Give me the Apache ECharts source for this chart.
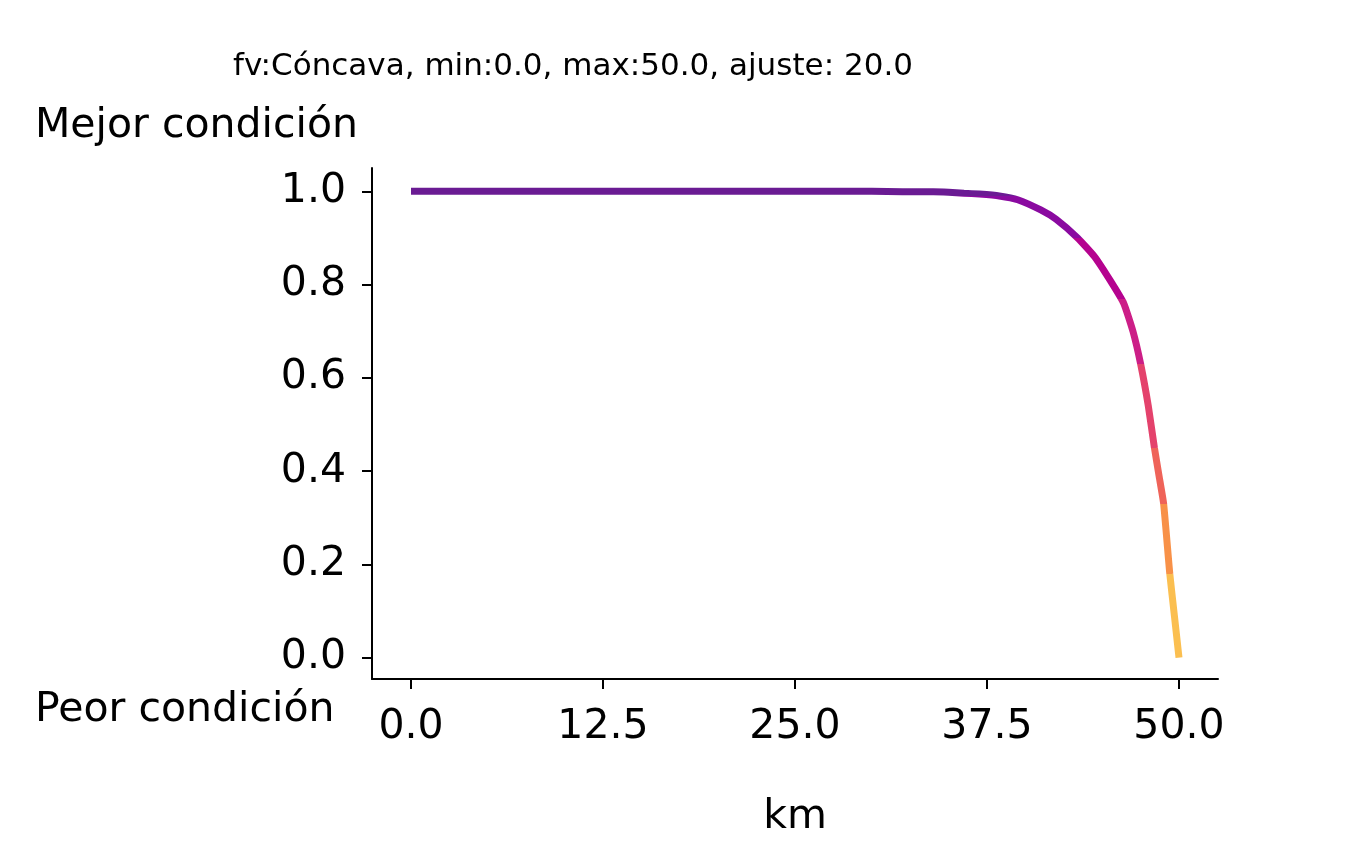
<!DOCTYPE html><html><head><meta charset="utf-8"><script src="https://cdn.jsdelivr.net/npm/echarts@6/dist/echarts.min.js"></script></head><body style="margin:0"><div id="c" style="width:1353px;height:843px"></div><script>
const kmValues=[0,5,10,15,20,25,30,32,34,35,36,37,38.3,39.5,41,42,43.4,44.5,45.5,46.4,47,47.5,48,48.4,48.7,49,49.4,49.7,50];
const conditionValues=[1,1,1,1,1,1,1,0.999,0.999,0.998,0.996,0.994,0.99,0.982,0.96,0.94,0.9,0.86,0.81,0.76,0.7,0.63,0.54,0.45,0.39,0.33,0.18,0.09,0.0];
const xTicks=[0,12.5,25,37.5,50];
const yTicks=[0,0.2,0.4,0.6,0.8,1];
const ch=echarts.init(document.getElementById('c'));
const F='DejaVu Sans';
ch.setOption({
 animation:false,
 title:{text:'fv:Cóncava, min:0.0, max:50.0, ajuste: 20.0',left:568,top:46,textAlign:'center',textStyle:{fontFamily:F,fontSize:31,fontWeight:'normal',color:'#000'}},
 graphic:[
  {type:'text',left:35,top:106,style:{text:'Mejor condición',font:'41px DejaVu Sans',fill:'#000'}},
  {type:'text',left:35,top:690,style:{text:'Peor condición',font:'41px DejaVu Sans',fill:'#000'}}
 ],
 grid:{left:372,right:135,top:168,bottom:153},
 xAxis:{type:'value',min:-2.54,max:52.54,name:'km',nameLocation:'middle',nameGap:118,nameTextStyle:{fontFamily:F,fontSize:41,color:'#000'},
  axisLine:{onZero:false,lineStyle:{color:'#000',width:2}},axisTick:{show:true,length:10,lineStyle:{color:'#000',width:2},customValues:xTicks},
  axisLabel:{customValues:xTicks,fontFamily:F,fontSize:41,color:'#000',margin:28,formatter:v=>v.toFixed(1)},splitLine:{show:false}},
 yAxis:{type:'value',min:-0.046,max:1.05,
  axisLine:{show:true,onZero:false,lineStyle:{color:'#000',width:2}},axisTick:{show:true,length:10,lineStyle:{color:'#000',width:2},customValues:yTicks},
  axisLabel:{customValues:yTicks,fontFamily:F,fontSize:41,color:'#000',margin:26,formatter:v=>v.toFixed(1)},splitLine:{show:false}},
 visualMap:{show:false,type:'piecewise',dimension:1,seriesIndex:0,pieces:[
  {lt:0.18,color:'#fbbf50'},{gte:0.18,lt:0.33,color:'#f89148'},{gte:0.33,lt:0.45,color:'#ef6359'},{gte:0.45,lt:0.63,color:'#e4426c'},
  {gte:0.63,lt:0.77,color:'#cc1e87'},{gte:0.77,lt:0.9,color:'#b5038f'},{gte:0.9,lt:0.99,color:'#8a0aa0'},{gte:0.99,color:'#6a1b93'}]},
 series:[{type:'line',data:kmValues.map((x,i)=>[x,conditionValues[i]]),showSymbol:false,smooth:0.15,lineStyle:{width:7}}]
});
</script></body></html>
